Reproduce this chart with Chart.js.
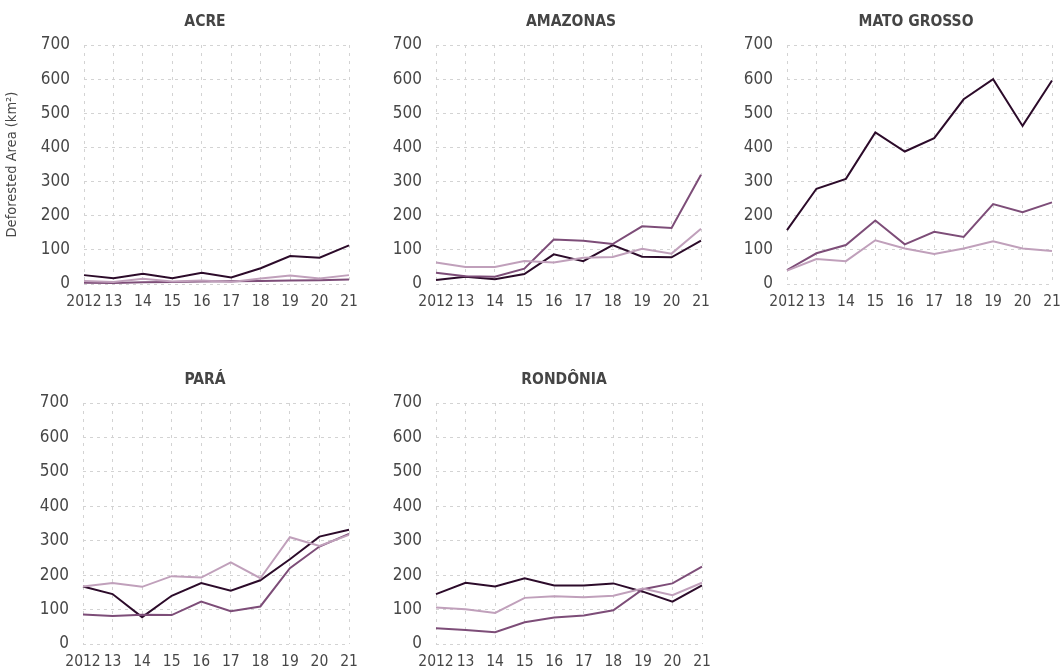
<!DOCTYPE html>
<html>
<head>
<meta charset="utf-8">
<script src="https://cdn.jsdelivr.net/npm/chart.js@4/dist/chart.umd.min.js"></script>
<style>
  html, body { margin: 0; padding: 0; background: #ffffff; width: 1060px; height: 672px; overflow: hidden; }
  .panel { position: absolute; }
</style>
</head>
<body>
<script>
// ---------- DATA ----------
const years = ['2012', '13', '14', '15', '16', '17', '18', '19', '20', '21'];
const yTicks = [0, 100, 200, 300, 400, 500, 600, 700];
const seriesNames = ['Category 1', 'Category 2', 'Category 3'];

const stateNames = ['ACRE', 'AMAZONAS', 'MATO GROSSO', 'PARÁ', 'RONDÔNIA'];

const acreDark   = [26, 17, 30, 17, 33, 19, 46, 82, 77, 113];
const acreMid    = [4, 3, 5, 6, 7, 8, 9, 10, 11, 13];
const acreLight  = [9, 6, 15, 7, 10, 6, 16, 25, 16, 26];

const amazonasDark  = [12, 21, 14, 29, 87, 67, 114, 80, 78, 127];
const amazonasMid   = [33, 23, 21, 45, 130, 127, 117, 169, 164, 320];
const amazonasLight = [63, 50, 50, 67, 63, 77, 79, 103, 89, 162];

const matoDark  = [158, 279, 308, 444, 388, 427, 541, 600, 463, 596];
const matoMid   = [41, 90, 114, 186, 116, 153, 138, 234, 210, 239];
const matoLight = [39, 73, 67, 128, 104, 88, 104, 125, 104, 97];

const paraDark  = [167, 145, 78, 140, 177, 155, 185, 246, 312, 332];
const paraMid   = [86, 81, 85, 84, 123, 95, 109, 220, 283, 320];
const paraLight = [167, 177, 166, 197, 193, 237, 191, 310, 285, 317];

const rondoniaDark  = [145, 178, 167, 191, 170, 170, 176, 152, 123, 170];
const rondoniaMid   = [46, 41, 34, 63, 77, 83, 98, 159, 176, 225];
const rondoniaLight = [106, 101, 90, 134, 139, 136, 140, 161, 142, 178];

const stateSeries = [
  [acreDark, acreMid, acreLight],
  [amazonasDark, amazonasMid, amazonasLight],
  [matoDark, matoMid, matoLight],
  [paraDark, paraMid, paraLight],
  [rondoniaDark, rondoniaMid, rondoniaLight]
];

// ---------- STYLE / LAYOUT ----------
const lineColors = ['#2c0b2a', '#7d4d78', '#c0a0bb'];
const FONT = '"DejaVu Sans Condensed", "DejaVu Sans", sans-serif';
const TEXT = '#474747';

// plot rectangles [left, right, top, bottom], title centre
const layout = [
  { plot: [84, 349, 45, 284], title: [205, 22], yTitle: true },
  { plot: [436, 701, 45, 284], title: [571, 22], yTitle: false },
  { plot: [787, 1052, 45, 284], title: [916, 22], yTitle: false },
  { plot: [83, 349, 403, 644], title: [205, 380], yTitle: false },
  { plot: [436, 702, 403, 644], title: [564, 380], yTitle: false }
];

const AXIS_W = 60;
const X_AXIS_H = 28;
const PAD_TOP = 42;
const PAD_RIGHT = 20;

const titlePlugin = {
  id: 'panelTitle',
  afterDraw(chart, args, opts) {
    const ctx = chart.ctx;
    ctx.save();
    ctx.font = 'bold 15.5px ' + FONT;
    ctx.fillStyle = '#454545';
    ctx.textAlign = 'center';
    ctx.textBaseline = 'middle';
    ctx.fillText(opts.text, opts.x, opts.y);
    ctx.restore();
  }
};

layout.forEach((lay, i) => {
  const [pl, pr, pt, pb] = lay.plot;
  const axisW = lay.yTitle ? pl : AXIS_W;
  const left = pl - axisW;
  const top = pt - PAD_TOP;
  const width = pr - left + PAD_RIGHT;
  const height = pb - top + X_AXIS_H;

  const wrap = document.createElement('div');
  wrap.className = 'panel';
  wrap.style.left = left + 'px';
  wrap.style.top = top + 'px';
  wrap.style.width = width + 'px';
  wrap.style.height = height + 'px';
  const canvas = document.createElement('canvas');
  wrap.appendChild(canvas);
  document.body.appendChild(wrap);

  const datasets = stateSeries[i].map((vals, k) => ({
    label: seriesNames[k],
    data: vals,
    borderColor: lineColors[k],
    backgroundColor: lineColors[k],
    borderWidth: 2,
    pointRadius: 0,
    tension: 0,
    order: 3 - k
  }));

  new Chart(canvas, {
    type: 'line',
    data: { labels: years, datasets },
    plugins: [titlePlugin],
    options: {
      responsive: true,
      maintainAspectRatio: false,
      animation: false,
      layout: { padding: { top: PAD_TOP, right: PAD_RIGHT, left: 0, bottom: 0 } },
      plugins: {
        legend: { display: false },
        tooltip: { enabled: false },
        panelTitle: { text: stateNames[i], x: lay.title[0] - left, y: lay.title[1] - top }
      },
      scales: {
        x: {
          type: 'category',
          offset: false,
          grid: { color: '#d3d3d3', lineWidth: 1, drawTicks: false },
          border: { display: false, dash: [3, 5] },
          ticks: {
            color: TEXT, font: { family: FONT, size: 15.5 }, padding: 9,
            maxRotation: 0, autoSkip: false
          },
          afterFit(scale) { scale.height = X_AXIS_H; }
        },
        y: {
          min: 0, max: 700,
          afterBuildTicks(scale) { scale.ticks = yTicks.map(v => ({ value: v })); },
          grid: { color: '#d3d3d3', lineWidth: 1, drawTicks: false },
          border: { display: false, dash: [3, 4] },
          ticks: { color: TEXT, font: { family: FONT, size: 17 }, padding: 14 },
          title: {
            display: lay.yTitle,
            text: 'Deforested Area (km²)',
            color: TEXT,
            font: { family: FONT, size: 14.5 },
            padding: { top: 4, bottom: 0 }
          },
          afterFit(scale) { scale.width = axisW; }
        }
      }
    }
  });
});
</script>
</body>
</html>
